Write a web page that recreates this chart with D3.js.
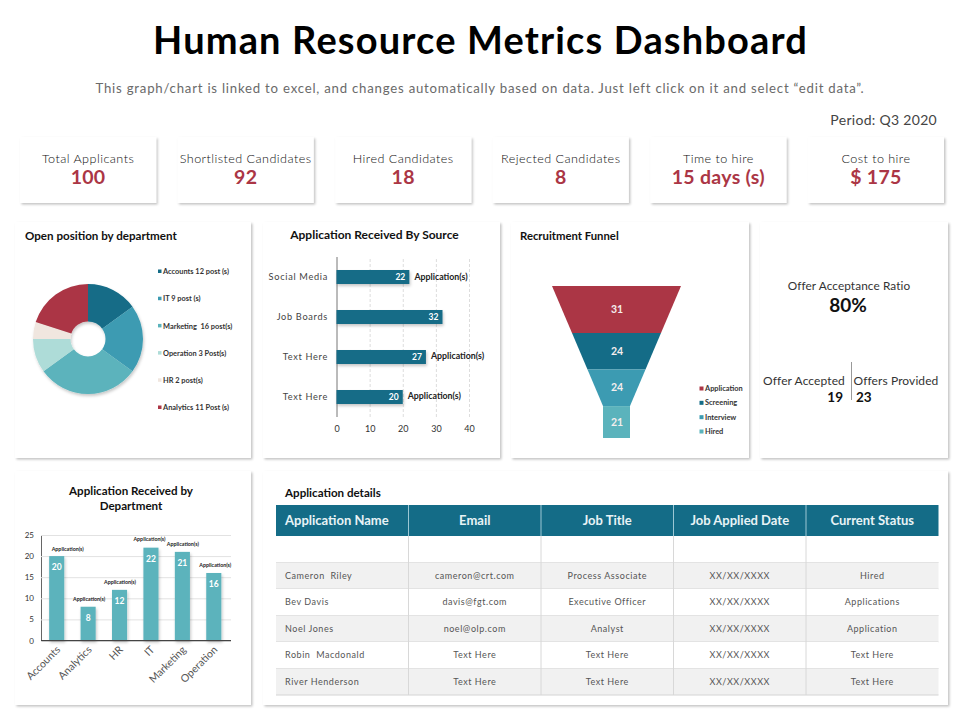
<!DOCTYPE html>
<html><head><meta charset="utf-8">
<script src="https://d3js.org/d3.v7.min.js"></script>
<style>
html,body{margin:0;padding:0;background:#fff}
svg{display:block}
text{font-family:Lato,"Open Sans",sans-serif}
</style></head><body><svg id="c" width="960" height="720"></svg>
<script>
// ---- data ----
const kpiLabels=["Total Applicants","Shortlisted Candidates","Hired Candidates","Rejected Candidates","Time to hire","Cost to hire"];
const kpiValues=["100","92","18","8","15 days (s)","$ 175"];
const pieNames=["Accounts","IT","Marketing","Operation","HR","Analytics"];
const pieValues=[15,20,30,10,5,20];
const pieLegend=["Accounts 12 post (s)","IT 9 post (s)","Marketing  16 post(s)","Operation 3 Post(s)","HR 2 post(s)","Analytics 11 Post (s)"];
const sourceNames=["Social Media","Job Boards","Text Here","Text Here"];
const sourceValues=[22,32,27,20];
const sourceNotes=["Application(s)","","Application(s)","Application(s)"];
const sourceTicks=[0,10,20,30,40];
const funnelNames=["Application","Screening","Interview","Hired"];
const funnelValues=[31,24,24,21];
const deptNames=["Accounts","Analytics","HR","IT","Marketing","Operation"];
const deptValues=[20,8,12,22,21,16];
const deptTicks=[0,5,10,15,20,25];
const tableHead=["Application Name","Email","Job Title","Job Applied Date","Current Status"];
const tableRows=[
 ["","","","",""],
 ["Cameron  Riley","cameron@crt.com","Process Associate","XX/XX/XXXX","Hired"],
 ["Bev Davis","davis@fgt.com","Executive Officer","XX/XX/XXXX","Applications"],
 ["Noel Jones","noel@olp.com","Analyst","XX/XX/XXXX","Application"],
 ["Robin  Macdonald","Text Here","Text Here","XX/XX/XXXX","Text Here"],
 ["River Henderson","Text Here","Text Here","XX/XX/XXXX","Text Here"]];

// ---- style ----
const TEAL="#146c87",MID="#3c9bb2",LIGHT="#5bb3bc",PALE="#aedcd8",CREAM="#f0e6df",RED="#ab3645";
const svg=d3.select("#c");
const defs=svg.append("defs");
function shadow(id,dx,dy,sd,op){
  const f=defs.append("filter").attr("id",id).attr("x","-20%").attr("y","-20%").attr("width","150%").attr("height","150%");
  f.append("feDropShadow").attr("dx",dx).attr("dy",dy).attr("stdDeviation",sd).attr("flood-color","#000").attr("flood-opacity",op);
}
shadow("card",1.5,1.5,1.2,.24);
shadow("mark",1,2,1.5,.22);
function txt(g,x,y,s,size,opt={}){
  return g.append("text").attr("x",x).attr("y",y).text(s).attr("font-size",size)
   .attr("text-anchor",opt.a||"middle").attr("font-weight",opt.w||400).attr("fill",opt.c||"#222")
   .attr("letter-spacing",opt.ls||null).style("white-space","pre");
}
function panel(x,y,w,h){svg.append("rect").attr("x",x).attr("y",y).attr("width",w).attr("height",h).attr("fill","#fff").attr("filter","url(#card)");}

// ---- header ----
txt(svg,480.5,54,"Human Resource Metrics Dashboard",38,{w:700,c:"#000",ls:"1.15px"});
txt(svg,480,93,"This graph/chart is linked to excel, and changes automatically based on data. Just left click on it and select “edit data”.",13.2,{w:400,c:"#6a6a6a",ls:".78px"});
txt(svg,937,125,"Period: Q3 2020",14,{a:"end",w:400,c:"#444",ls:".3px"});

// ---- KPI cards ----
const cardX=d3.scaleBand().domain(d3.range(6)).range([20,944]).paddingInner(0.136).paddingOuter(0);
kpiLabels.forEach((l,i)=>{
  const x=cardX(i),w=cardX.bandwidth();
  panel(x,137,w,66);
  txt(svg,x+w/2,163,l,12.6,{w:300,c:"#111",ls:".45px"});
  txt(svg,x+w/2,184,kpiValues[i],19.5,{w:700,c:RED,ls:".3px"});
});

// ---- panels ----
panel(15,222,236,236);panel(263,222,237,236);panel(511,222,238,236);panel(760,222,188,236);
panel(15,471,236,234);panel(263,471,685,234);

// ---- pie ----
txt(svg,25,240,"Open position by department",11.6,{a:"start",w:700,c:"#111"});
const pieCol=d3.scaleOrdinal(pieNames,[TEAL,MID,LIGHT,PALE,CREAM,RED]);
const arcs=d3.pie().sort(null)(pieValues);
const arc=d3.arc().innerRadius(17.5).outerRadius(55);
svg.append("g").attr("transform","translate(88,339)").attr("filter","url(#mark)")
  .selectAll("path").data(arcs).join("path").attr("d",arc).attr("fill",(d,i)=>pieCol(pieNames[i]));
const pieLegY=d3.scalePoint().domain(d3.range(6)).range([271.5,407.5]);
pieLegend.forEach((l,i)=>{
  svg.append("rect").attr("x",158).attr("y",pieLegY(i)-2).attr("width",3.5).attr("height",3.5).attr("fill",pieCol(pieNames[i]));
  txt(svg,163,pieLegY(i)+2.6,l,7.4,{a:"start",w:700,c:"#333"});
});

// ---- source bars ----
txt(svg,374.5,239,"Application Received By Source",12,{w:700,c:"#111"});
const sx=d3.scaleLinear().domain([0,40]).range([336.5,469]);
const sy=d3.scaleBand().domain(d3.range(4)).range([257,417]).paddingInner(.65).paddingOuter(.325);
const sAxis=svg.append("g").attr("transform","translate(0,417)")
  .call(d3.axisBottom(sx).tickValues(sourceTicks).tickSize(-160).tickPadding(9).tickFormat(d3.format("d")));
sAxis.select(".domain").remove();
sAxis.selectAll("line").attr("stroke","#ddd").attr("stroke-dasharray","3 2");
sAxis.selectAll("text").attr("font-size",9).attr("fill","#333").style("font-family","Lato");
sAxis.selectAll(".tick").filter(d=>d===0).select("line").attr("stroke","#777").attr("stroke-dasharray",null);
svg.append("g").selectAll("rect").data(sourceValues).join("rect")
  .attr("x",sx(0)).attr("y",(d,i)=>sy(i)).attr("width",d=>sx(d)-sx(0)).attr("height",sy.bandwidth())
  .attr("fill",TEAL).attr("filter","url(#mark)");
sourceValues.forEach((v,i)=>{
  const c=sy(i)+sy.bandwidth()/2;
  txt(svg,sx(v)-9,c+3,String(v),8.5,{w:700,c:"#fff"});
  if(sourceNotes[i]) txt(svg,sx(v)+5,c+2.5-(i>1?.8:0),sourceNotes[i],8.8,{a:"start",w:700,c:"#222"});
  txt(svg,328,c+3,sourceNames[i],9.2,{a:"end",w:400,c:"#444",ls:".7px"});
});

// ---- funnel ----
txt(svg,520,240,"Recruitment Funnel",11.3,{a:"start",w:700,c:"#111"});
const funnelCol=d3.scaleOrdinal(funnelNames,[RED,TEAL,MID,LIGHT]);
const cum=d3.cumsum(funnelValues);
const fy=d3.scaleLinear().domain([0,d3.sum(funnelValues)]).range([286,438]);
const fw=d3.scaleLinear().domain([0,cum[2]]).range([64.5,13.5]).clamp(true);
const fCx=616.5;
funnelValues.forEach((v,i)=>{
  const a=i?cum[i-1]:0,b=cum[i];
  const pts=[[fCx-fw(a),fy(a)],[fCx+fw(a),fy(a)],[fCx+fw(b),fy(b)],[fCx-fw(b),fy(b)]];
  svg.append("path").attr("d",d3.line()(pts)+"Z").attr("fill",funnelCol(funnelNames[i]));
  txt(svg,fCx+.5,(fy(a)+fy(b))/2+3.5,String(v),10.5,{w:700,c:"#f4eeee"});
});
const fLeg=d3.scalePoint().domain(d3.range(4)).range([388.5,431.5]);
funnelNames.forEach((n,i)=>{
  svg.append("rect").attr("x",699.5).attr("y",fLeg(i)-2).attr("width",4).attr("height",4).attr("fill",funnelCol(n));
  txt(svg,705,fLeg(i)+2.5,n,7.4,{a:"start",w:700,c:"#333"});
});

// ---- offer ----
txt(svg,849,290,"Offer Acceptance Ratio",11.8,{w:400,c:"#333",ls:".1px"});
txt(svg,848,312,"80%",19,{w:700,c:"#111"});
txt(svg,804,385,"Offer Accepted",12,{w:400,c:"#333",ls:".1px"});
txt(svg,896,385,"Offers Provided",12,{w:400,c:"#333",ls:".1px"});
txt(svg,843,402,"19",13.5,{a:"end",w:700,c:"#111"});
txt(svg,856,402,"23",13.5,{a:"start",w:700,c:"#111"});
svg.append("line").attr("x1",851.5).attr("x2",851.5).attr("y1",362).attr("y2",400).attr("stroke","#999");

// ---- department bars ----
txt(svg,131,495,"Application Received by",11.6,{w:700,c:"#111"});
txt(svg,131,510,"Department",11.6,{w:700,c:"#111"});
const dx=d3.scaleBand().domain(deptNames).range([41,229.5]).paddingInner(.52).paddingOuter(.26);
const dy=d3.scaleLinear().domain([0,25]).range([640.5,535]);
const noteNudge=[11,1,.5,-1.5,.5,1.5];
const dAxisY=svg.append("g").attr("transform","translate(41,0)")
  .call(d3.axisLeft(dy).tickValues(deptTicks).tickSize(-190).tickPadding(7));
dAxisY.selectAll("line").attr("stroke","#e2e2e2");
dAxisY.select(".domain").attr("stroke","#666");
dAxisY.selectAll("text").attr("font-size",8).attr("fill","#333").style("font-family","Lato");
svg.append("g").selectAll("rect").data(deptValues).join("rect")
  .attr("x",(d,i)=>dx(deptNames[i])).attr("y",d=>dy(d)).attr("width",dx.bandwidth()).attr("height",d=>dy(0)-dy(d))
  .attr("fill",LIGHT).attr("filter","url(#mark)");
const dAxisX=svg.append("g").attr("transform","translate(0,640.5)").call(d3.axisBottom(dx).tickSize(0));
dAxisX.select(".domain").attr("stroke","#444").attr("d","M41,0H231");
dAxisX.selectAll("text").attr("font-size",10.5).attr("font-weight",400).attr("fill","#555").style("font-family","Lato")
  .attr("text-anchor","end").attr("dx","-4").attr("dy","7").attr("transform","rotate(-45)");
deptValues.forEach((v,i)=>{
  const c=dx(deptNames[i])+dx.bandwidth()/2;
  txt(svg,c,dy(v)+14,String(v),8.5,{w:700,c:"#fff"});
  txt(svg,c+noteNudge[i],dy(v)-(i===3?6.5:5.5),"Application(s)",5.3,{c:"#222",w:700});
});

// ---- table ----
txt(svg,285,497,"Application details",11.6,{a:"start",w:700,c:"#111"});
const colX=d3.scaleLinear().domain([0,5]).range([276,938.5]);
const rowY=d3.scaleLinear().domain([0,6]).range([536,695]);
svg.append("rect").attr("x",colX(0)).attr("y",505).attr("width",colX(5)-colX(0)).attr("height",31).attr("fill",TEAL);
tableRows.forEach((r,i)=>{
  svg.append("rect").attr("x",colX(0)).attr("y",rowY(i)).attr("width",colX(5)-colX(0)).attr("height",rowY(1)-rowY(0))
    .attr("fill",i%2?"#f1f1f1":"#fff");
  svg.append("line").attr("x1",colX(0)).attr("x2",colX(5)).attr("y1",rowY(i+1)).attr("y2",rowY(i+1)).attr("stroke","#d4d4d4");
  r.forEach((c,j)=>{
    if(!c)return;
    const y=(rowY(i)+rowY(i+1))/2+3;
    if(j===0) txt(svg,colX(0)+9,y,c,9,{a:"start",w:400,c:"#555",ls:".55px"});
    else txt(svg,(colX(j)+colX(j+1))/2,y,c,9,{w:400,c:"#555",ls:".55px"});
  });
});
d3.range(1,5).forEach(j=>{
  svg.append("line").attr("x1",colX(j)).attr("x2",colX(j)).attr("y1",505).attr("y2",536).attr("stroke","#9cc7d4");
  svg.append("line").attr("x1",colX(j)).attr("x2",colX(j)).attr("y1",536).attr("y2",695).attr("stroke","#d8d8d8");
});
tableHead.forEach((h,j)=>{
  if(j===0) txt(svg,colX(0)+9,525,h,13,{a:"start",w:700,c:"#e8f3f6"});
  else txt(svg,(colX(j)+colX(j+1))/2,525,h,13,{w:700,c:"#e8f3f6"});
});
</script></body></html>
